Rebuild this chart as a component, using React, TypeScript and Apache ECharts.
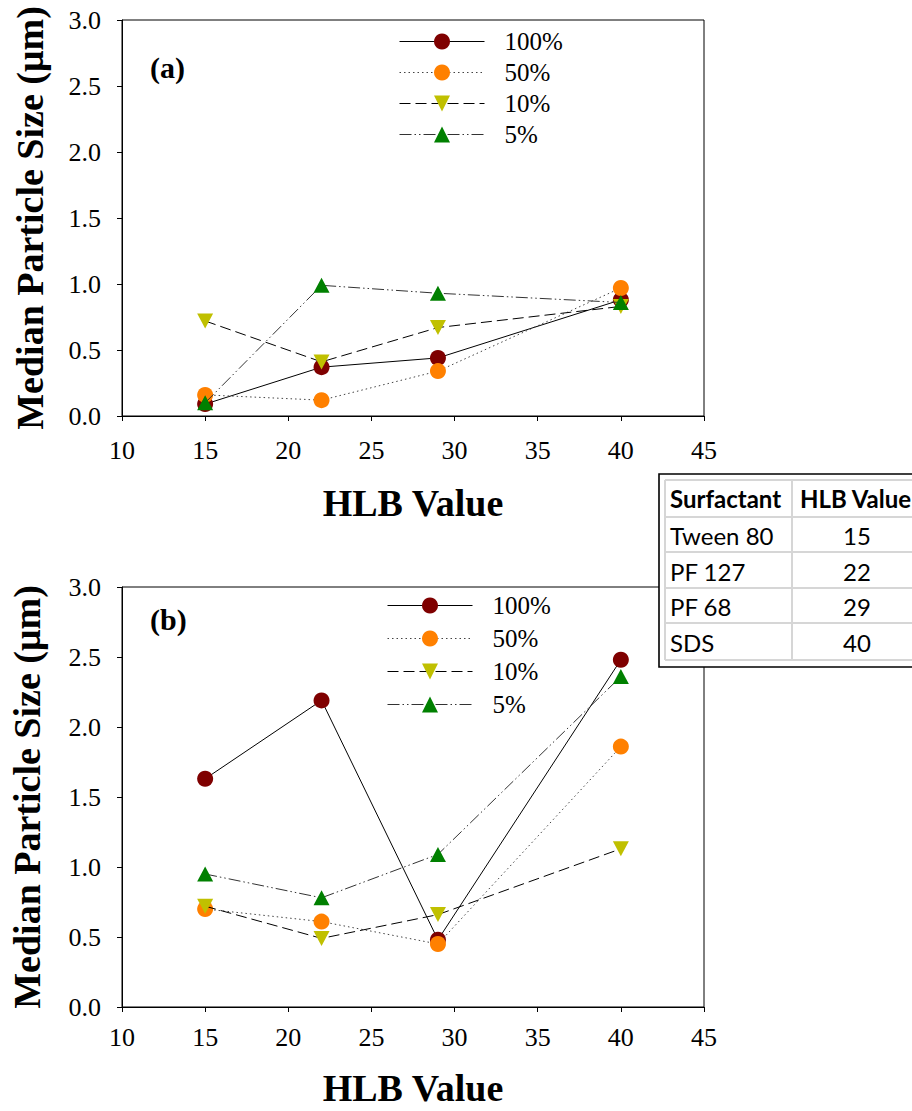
import React, { useEffect, useRef } from "react";
import * as echarts from "echarts";

// HLB values of the four surfactants (x positions of every series)
const hlbValues = [15, 22, 29, 40];
const seriesNames = ["100%", "50%", "10%", "5%"];

// Panel (a): median particle size (µm)
const a100 = [0.09, 0.37, 0.44, 0.88];
const a50 = [0.16, 0.12, 0.34, 0.97];
const a10 = [0.72, 0.41, 0.67, 0.83];
const a5 = [0.1, 0.99, 0.93, 0.86];

// Panel (b): median particle size (µm)
const b100 = [1.63, 2.19, 0.48, 2.48];
const b50 = [0.7, 0.61, 0.45, 1.86];
const b10 = [0.72, 0.49, 0.66, 1.13];
const b5 = [0.95, 0.78, 1.09, 2.36];

// Inset table
const tableHeader = ["Surfactant", "HLB Value"];
const surfactants = ["Tween 80", "PF 127", "PF 68", "SDS"];
const surfactantHlb = ["15", "22", "29", "40"];

const SERIF = "Liberation Serif";
const SANS = "Lato";

const seriesStyles = [
  { color: "#7f0000", symbol: "circle", rotate: 0, size: 16, lineColor: "#000", lineType: "solid" as any },
  { color: "#ff8000", symbol: "circle", rotate: 0, size: 16, lineColor: "#444", lineType: [1.5, 3] },
  { color: "#c0c000", symbol: "triangle", rotate: 180, size: [16, 15], lineColor: "#000", lineType: [11, 5] },
  { color: "#008000", symbol: "triangle", rotate: 0, size: [16, 15], lineColor: "#333", lineType: [12, 3, 1.5, 3, 1.5, 3] },
];

function makeSeries(values: number[][], gridIndex: number) {
  return values.map((vals, i) => {
    const st = seriesStyles[i];
    return {
      type: "line",
      name: seriesNames[i],
      xAxisIndex: gridIndex,
      yAxisIndex: gridIndex,
      data: hlbValues.map((x, k) => [x, vals[k]]),
      symbol: st.symbol,
      symbolSize: st.size,
      symbolRotate: st.rotate,
      showSymbol: true,
      itemStyle: { color: st.color, borderWidth: 0 },
      lineStyle: { color: st.lineColor, width: 1, type: st.lineType },
      emphasis: { disabled: true },
      z: 2 + i,
    };
  });
}

function xAxis(gridIndex: number, margin: number, nameGap: number) {
  return {
    type: "value",
    gridIndex,
    min: 10,
    max: 45,
    interval: 5,
    name: "HLB Value",
    nameLocation: "middle",
    nameGap,
    nameTextStyle: { fontFamily: SERIF, fontSize: 38, fontWeight: "bold", color: "#000" },
    axisLine: { show: true, onZero: false, lineStyle: { color: "#000", width: 1 } },
    axisTick: { show: true, inside: false, length: 5, lineStyle: { color: "#000" } },
    axisLabel: { margin, fontFamily: SERIF, fontSize: 26, color: "#000" },
    splitLine: { show: false },
  };
}

function yAxis(gridIndex: number, margin: number, nameGap: number) {
  return {
    type: "value",
    gridIndex,
    min: 0,
    max: 3,
    interval: 0.5,
    name: "Median Particle Size (μm)",
    nameLocation: "middle",
    nameRotate: 90,
    nameGap,
    nameTextStyle: { fontFamily: SERIF, fontSize: 38, fontWeight: "bold", color: "#000" },
    axisLine: { show: true, onZero: false, lineStyle: { color: "#000", width: 1 } },
    axisTick: { show: true, inside: false, length: 5, lineStyle: { color: "#000" } },
    axisLabel: {
      margin,
      fontFamily: SERIF,
      fontSize: 26,
      color: "#000",
      formatter: (v: number) => v.toFixed(1),
    },
    splitLine: { show: false },
  };
}

function legend(left: number, top: number, gap: number) {
  return {
    data: seriesNames,
    orient: "vertical",
    left,
    top,
    padding: 0,
    itemWidth: 85,
    itemHeight: 20,
    itemGap: gap,
    selectedMode: false,
    lineStyle: { width: 1 },
    textStyle: { fontFamily: SERIF, fontSize: 25, color: "#000", padding: [0, 0, 0, 15] },
  };
}

function panelTitle(text: string, top: number) {
  return {
    text,
    left: 150,
    top,
    padding: 0,
    z: 200,
    textStyle: { fontFamily: SERIF, fontSize: 30, fontWeight: "bold", color: "#000" },
  };
}

// Table cell text, placed as a title block (top-left corner at left/top)
function cellTitle(text: string, left: number, top: number, weight: string) {
  return {
    text,
    left,
    top,
    padding: 0,
    z: 200,
    textStyle: { fontFamily: SANS, fontSize: 24, fontWeight: weight, color: "#000" },
  };
}

const rowLines = [480, 517, 552, 588, 623, 660];

function tableTitles() {
  const items: any[] = [];
  items.push(cellTitle(tableHeader[0], 670, 486, "bold"));
  items.push(cellTitle(tableHeader[1], 800, 486, "bold"));
  surfactants.forEach((name, i) => {
    const top = (rowLines[i + 1] + rowLines[i + 2]) / 2 - 11;
    items.push(cellTitle(name, 670, top, "normal"));
    items.push(cellTitle(surfactantHlb[i], 843, top, "normal"));
  });
  return items;
}

function tableFrame() {
  const left = 659;
  const top = 474;
  const innerLeft = 665;
  const colDiv = 792;
  const right = 930;
  const grey = "#d6d6d6";
  const children: any[] = [
    {
      type: "rect",
      shape: { x: left, y: top, width: right - left, height: 193 },
      style: { fill: "#fff", stroke: "#000", lineWidth: 1.6 },
    },
  ];
  rowLines.forEach((y) =>
    children.push({
      type: "line",
      shape: { x1: innerLeft, y1: y, x2: right, y2: y },
      style: { stroke: grey, lineWidth: 2 },
    })
  );
  [innerLeft, colDiv].forEach((x) =>
    children.push({
      type: "line",
      shape: { x1: x, y1: rowLines[0], x2: x, y2: rowLines[rowLines.length - 1] },
      style: { stroke: grey, lineWidth: 2 },
    })
  );
  return { type: "group", z: 100, children };
}

export default function App() {
  const ref = useRef<HTMLDivElement>(null);
  useEffect(() => {
    if (!ref.current) return;
    const chart = echarts.init(ref.current, null, { renderer: "svg" });
    const option: any = {
      animation: false,
      backgroundColor: "#fff",
      title: [panelTitle("(a)", 52), panelTitle("(b)", 604), ...tableTitles()],
      grid: [
        { left: 122, top: 20, width: 582, height: 396, show: true, borderColor: "#000", borderWidth: 1, backgroundColor: "transparent" },
        { left: 121, top: 587, width: 583, height: 420, show: true, borderColor: "#000", borderWidth: 1, backgroundColor: "transparent" },
      ],
      xAxis: [xAxis(0, 21, 68), xAxis(1, 17, 62)],
      yAxis: [yAxis(0, 21, 73), yAxis(1, 21, 76)],
      legend: [legend(399, 29, 6), legend(387, 593, 8)],
      series: [
        ...makeSeries([a100, a50, a10, a5], 0),
        ...makeSeries([b100, b50, b10, b5], 1),
      ],
      graphic: [tableFrame()],
    };
    chart.setOption(option);
    return () => chart.dispose();
  }, []);
  return (
    <div
      ref={ref}
      style={{ position: "absolute", left: 0, top: 0, width: 912, height: 1111, background: "#fff" }}
    />
  );
}
